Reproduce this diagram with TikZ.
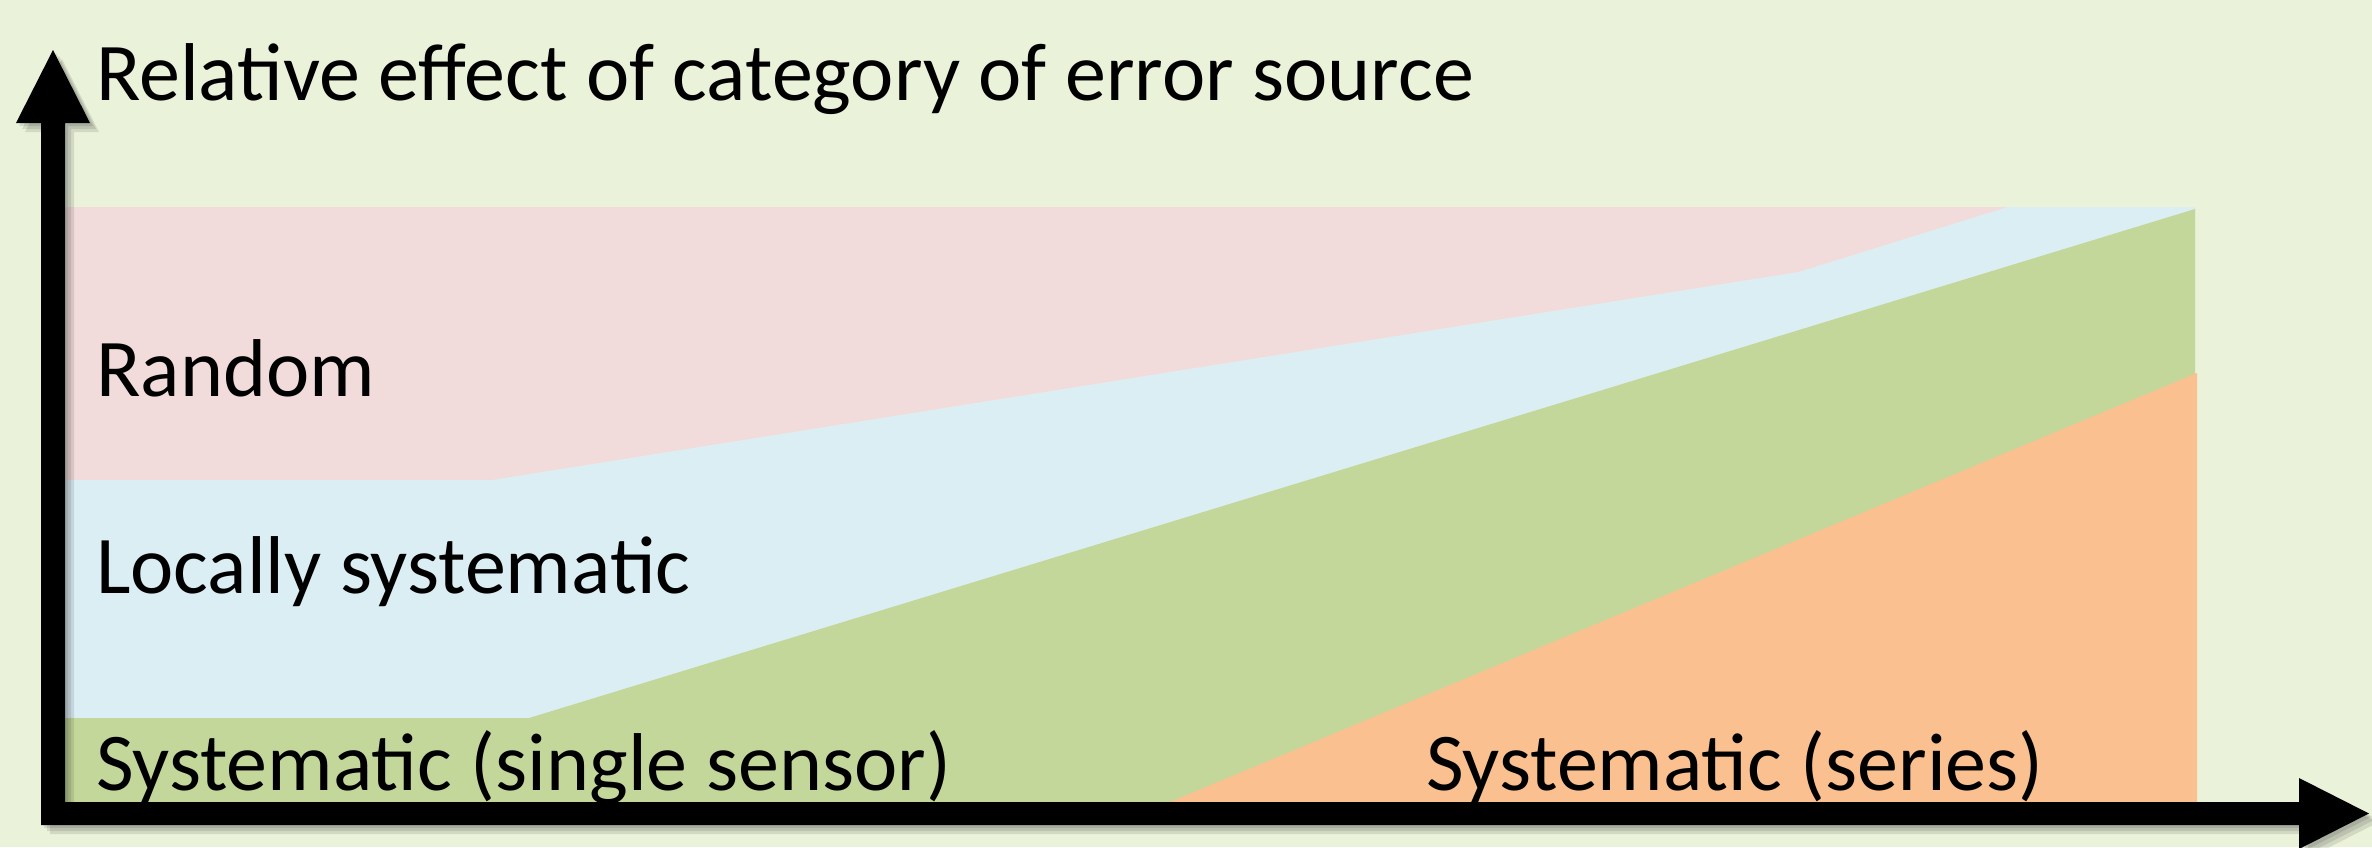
\documentclass[tikz,border=0pt]{standalone}
\usepackage{fontspec}
\setmainfont{Carlito}
\definecolor{bgcol}{HTML}{EAF2DA}
\definecolor{randomcol}{HTML}{F2DCDB}
\definecolor{localcol}{HTML}{DBEEF4}
\definecolor{singlecol}{HTML}{C4D79B}
\definecolor{seriescol}{HTML}{FAC090}
\begin{document}
\begin{tikzpicture}[x=1pt,y=-1pt,
  lbl/.style={anchor=base west, inner sep=0pt, font=\fontsize{82}{92}\selectfont},
  axisfill/.style={fill=black},
  shade1/.style={fill=black, opacity=0.10}]
\fill[bgcol] (0,0) rectangle (2372,847);
\useasboundingbox (0,0) rectangle (2372,847);
\clip (0,0) rectangle (2372,847);

% category bands, back to front
\fill[randomcol] (55,207) -- (2008,207) -- (1799,272) -- (493,480) -- (55,480) -- cycle;
\fill[localcol] (55,480) -- (493,480) -- (1799,272) -- (2008,207) -- (2195,207)
  -- (2195,802) -- (55,802) -- cycle;
\fill[singlecol] (55,718) -- (529,718) -- (2195,209) -- (2195,802) -- (55,802) -- cycle;
\fill[seriescol] (1170,802) -- (2197,373) -- (2197,802) -- cycle;

% soft shadows under the axes
\foreach \d in {3,6,9} {
  \fill[shade1] (41+\d,123+\d) -- (16+\d,123+\d) -- (53+\d,50+\d) -- (90+\d,123+\d)
    -- (65+\d,123+\d) -- (65+\d,802+\d) -- (2299+\d,802+\d) -- (2299+\d,778+\d)
    -- (2369+\d,813.5+\d) -- (2299+\d,849+\d) -- (2299+\d,825+\d) -- (41+\d,825+\d) -- cycle;
}

% axes
\fill[axisfill] (41,123) -- (16,123) -- (53,50) -- (90,123) -- (65,123)
  -- (65,802) -- (2299,802) -- (2299,778) -- (2369,813.5) -- (2299,849)
  -- (2299,825) -- (41,825) -- cycle;

% labels
\node[lbl] (title) at (96,100) {Relative effect of category of error source};
\node[lbl] (random) at (96,396) {Random};
\node[lbl] (local) at (96,593) {Locally systematic};
\node[lbl] (single) at (96,790) {Systematic (single sensor)};
\node[lbl] (series) at (1426,790) {Systematic (series)};
\end{tikzpicture}
\end{document}
